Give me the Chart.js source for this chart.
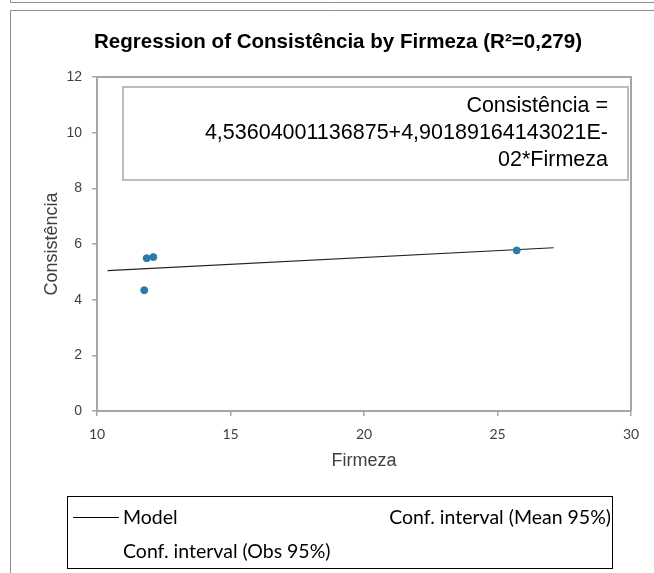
<!DOCTYPE html>
<html>
<head>
<meta charset="utf-8">
<title>Regression of Consistência by Firmeza</title>
<script src="https://cdn.jsdelivr.net/npm/chart.js@4.4.1/dist/chart.umd.min.js"></script>
<style>
  html, body { margin: 0; padding: 0; background: #fff; }
  #wrap { position: relative; width: 654px; height: 573px; }
</style>
</head>
<body>
<div id="wrap"><canvas id="regChart" width="654" height="573"></canvas></div>
<script>
// observations
const firmeza = [11.77, 11.86, 12.11, 25.72];
const consistencia = [4.34, 5.49, 5.53, 5.77];

// fitted model, as printed in the equation box
const intercept = 4.53604001136875;
const slope = 4.90189164143021E-02;
const modelRange = [10.4, 27.1];

const xTicks = [10, 15, 20, 25, 30];
const yTicks = [0, 2, 4, 6, 8, 10, 12];

const titleText = 'Regression of Consistência by Firmeza (R\u00B2=0,279)';
const equationLines = ['Consistência =', '4,53604001136875+4,90189164143021E-', '02*Firmeza'];

const axisGrey = '#a6a6a6';
const pointBlue = '#2a7ba8';

const points = firmeza.map((x, i) => ({ x: x, y: consistencia[i] }));
const modelLine = modelRange.map(x => ({ x: x, y: intercept + slope * x }));

// frame, title, plot border, equation box and legend
const decorations = {
  id: 'decorations',
  beforeDraw(chart) {
    const c = chart.ctx;
    c.save();
    c.fillStyle = '#fff';
    c.fillRect(0, 0, chart.width, chart.height);
    c.strokeStyle = '#8c8c8c';
    c.lineWidth = 1;
    c.beginPath();
    c.moveTo(10.5, 0); c.lineTo(10.5, 2.5); c.lineTo(654, 2.5);
    c.moveTo(10.5, 573); c.lineTo(10.5, 10.5); c.lineTo(654, 10.5);
    c.stroke();
    c.restore();
  },
  afterDraw(chart) {
    const c = chart.ctx;
    const a = chart.chartArea;
    c.save();

    // top and right edges of the plot area
    c.strokeStyle = axisGrey;
    c.lineWidth = 2;
    c.beginPath();
    c.moveTo(a.left, a.top); c.lineTo(a.right, a.top); c.lineTo(a.right, a.bottom);
    c.stroke();

    // title, squeezed a little like the original narrow bold face
    c.fillStyle = '#000';
    c.font = 'bold 21px "Liberation Sans", Arial, sans-serif';
    c.textAlign = 'center';
    c.textBaseline = 'middle';
    const tw = c.measureText(titleText).width;
    c.save();
    c.translate(338, 42);
    c.scale(Math.min(1, 488 / tw), 1);
    c.fillText(titleText, 0, 0);
    c.restore();

    // equation box
    c.strokeStyle = '#bdbdbd';
    c.lineWidth = 2;
    c.strokeRect(123, 87, 505, 93);
    c.fillStyle = '#000';
    c.font = '21.5px "Liberation Sans", Arial, sans-serif';
    c.textAlign = 'right';
    equationLines.forEach((t, i) => c.fillText(t, 608, 106 + i * 27));

    // legend
    c.strokeStyle = '#000';
    c.lineWidth = 1;
    c.strokeRect(67.5, 496.5, 545, 72);
    c.beginPath();
    c.moveTo(73, 517.5); c.lineTo(119, 517.5);
    c.stroke();
    c.font = '19.5px Lato, "Open Sans", sans-serif';
    c.textAlign = 'left';
    c.fillText('Model', 123, 518);
    c.fillText('Conf. interval (Obs 95%)', 123, 552);
    c.textAlign = 'right';
    c.fillText('Conf. interval (Mean 95%)', 611, 518);

    c.restore();
  }
};

new Chart(document.getElementById('regChart'), {
  type: 'scatter',
  data: {
    datasets: [
      {
        label: 'Model',
        data: modelLine,
        showLine: true,
        borderColor: '#222',
        borderWidth: 1.2,
        pointRadius: 0,
        fill: false,
        order: 2
      },
      {
        label: 'Consistência',
        data: points,
        backgroundColor: pointBlue,
        borderColor: pointBlue,
        pointRadius: 3.5,
        order: 1
      }
    ]
  },
  options: {
    responsive: false,
    devicePixelRatio: 1,
    animation: false,
    layout: { padding: { left: 40, top: 77, right: 23, bottom: 100 } },
    plugins: {
      legend: { display: false },
      title: { display: false },
      tooltip: { enabled: false }
    },
    scales: {
      x: {
        type: 'linear',
        min: 10,
        max: 30,
        afterBuildTicks: s => { s.ticks = xTicks.map(v => ({ value: v })); },
        afterFit: s => { s.height = 62; },
        border: { color: axisGrey, width: 2 },
        grid: { drawOnChartArea: false, drawTicks: true, tickLength: 5, color: axisGrey, lineWidth: 1.5 },
        ticks: { color: '#404040', padding: 10, font: { family: 'Lato, "Liberation Sans", sans-serif', size: 14 } },
        title: {
          display: true,
          text: 'Firmeza',
          color: '#404040',
          padding: { top: 0, bottom: 1 },
          font: { family: '"Liberation Sans", Arial, sans-serif', size: 18 }
        }
      },
      y: {
        type: 'linear',
        min: 0,
        max: 12,
        afterBuildTicks: s => { s.ticks = yTicks.map(v => ({ value: v })); },
        afterFit: s => { s.width = 57; },
        border: { color: axisGrey, width: 2 },
        grid: { drawOnChartArea: false, drawTicks: true, tickLength: 5, color: axisGrey, lineWidth: 1.5 },
        ticks: { color: '#404040', padding: 10, font: { family: '"Liberation Sans", Arial, sans-serif', size: 14 } },
        title: {
          display: true,
          text: 'Consistência',
          color: '#404040',
          padding: { top: 1, bottom: 0 },
          font: { family: '"Liberation Sans", Arial, sans-serif', size: 18 }
        }
      }
    }
  },
  plugins: [decorations]
});
</script>
</body>
</html>
